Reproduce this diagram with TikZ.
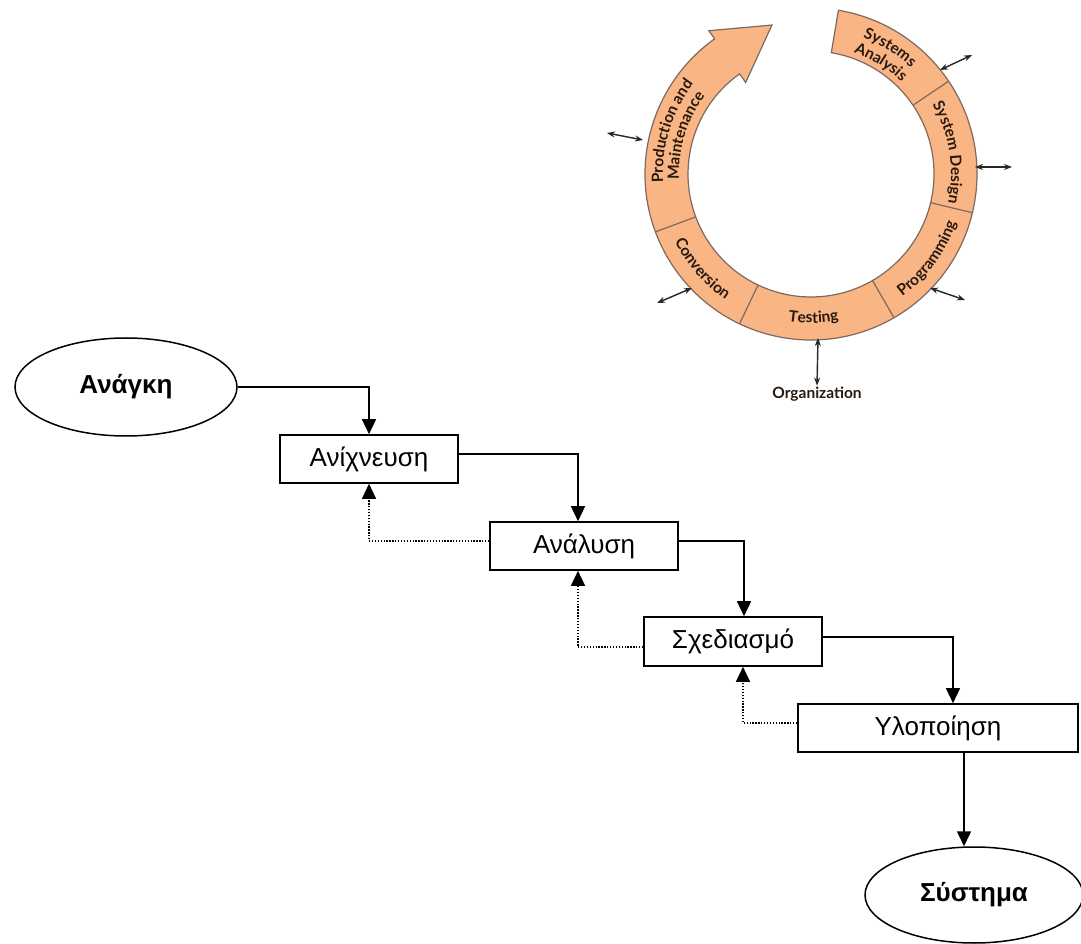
\documentclass[tikz,border=0pt]{standalone}
\usepackage{fontspec}
\setmainfont{Liberation Sans}
\newfontfamily\cycfont{Lato}
\usetikzlibrary{arrows.meta,decorations.text,shapes.geometric}
\definecolor{ringfill}{RGB}{249,181,132}
\definecolor{ringline}{RGB}{125,105,95}
\definecolor{labcol}{RGB}{40,25,15}
\newcommand\cyclab{\cycfont\bfseries\fontsize{15.5}{18}\selectfont\color{labcol}}
\begin{document}
\begin{tikzpicture}[x=1pt,y=1pt,
  box/.style={draw, line width=1.6pt, rectangle, inner sep=0pt, font=\fontsize{26}{30}\selectfont},
  oval/.style={draw, line width=1.5pt, ellipse, inner sep=0pt, font=\bfseries\fontsize{26}{30}\selectfont},
  flow/.style={line width=1.5pt, -{Triangle[length=15pt,width=14pt]}},
  back/.style={line width=1.3pt, dash pattern=on 1.3pt off 1.6pt, -{Triangle[length=15pt,width=14pt]}},
  ring/.style={fill=ringfill, draw=ringline, line width=1.2pt},
  sep/.style={draw=ringline, line width=1.2pt},
  io/.style={line width=1.4pt, draw=black!85, {Stealth[length=8pt,width=6pt]}-{Stealth[length=8pt,width=6pt]}},
  cyctext/.style={font=\cycfont\bfseries\fontsize{15.5}{18}\selectfont, text=labcol, inner sep=1pt}
]
\useasboundingbox (0,0) rectangle (1081,943);

% ---------- cycle diagram ----------
\begin{scope}[shift={(811,769)}]
\draw[ring] (80.5:166pt) arc[start angle=80.5, end angle=-234.5, radius=166pt]
  -- (-234.5:176pt) -- (104.7:154pt) -- (-234.5:112.5pt) -- (-234.5:123pt)
  arc[start angle=-234.5, end angle=80.5, radius=123pt] -- cycle;
\foreach \a in {34,-13.5,-60,-115.5,-159.6} \draw[sep] (\a:123pt) -- (\a:166pt);
% labels
\path[decorate, decoration={text along path, text align=center, text={|\cyclab|Systems}}]
  (80:146pt) arc[start angle=80, end angle=36, radius=146pt];
\path[decorate, decoration={text along path, text align=center, text={|\cyclab|Analysis}}]
  (80:129pt) arc[start angle=80, end angle=36, radius=129pt];
\path[decorate, decoration={text along path, text align=center, text={|\cyclab|System Design}}]
  (33:140pt) arc[start angle=33, end angle=-15, radius=140pt];
\path[decorate, decoration={text along path, text align=center, text={|\cyclab|Programming}}]
  (-60:153pt) arc[start angle=-60, end angle=-12, radius=153pt];
\path[decorate, decoration={text along path, text align=center, text={|\cyclab|Testing}}]
  (-114:149pt) arc[start angle=-114, end angle=-64, radius=149pt];
\path[decorate, decoration={text along path, text align=center, text={|\cyclab|Conversion}}]
  (-160:152pt) arc[start angle=-160, end angle=-118, radius=152pt];
\path[decorate, decoration={text along path, text align=center, text={|\cyclab|Production and}}]
  (198:148pt) arc[start angle=198, end angle=128, radius=148pt];
\path[decorate, decoration={text along path, text align=center, text={|\cyclab|Maintenance}}]
  (198:132pt) arc[start angle=198, end angle=128, radius=132pt];
\end{scope}

\node[cyctext] (org) at (817,549) {Organization};
\draw[io] (940,873) -- (972,888);
\draw[io] (975,776) -- (1012,776);
\draw[io] (930,655) -- (965,643);
\draw[io] (818,605) -- (org.north);
\draw[io] (692,655) -- (657,640);
\draw[io] (643,803) -- (607,810);

% ---------- flow chart ----------
\node[oval, minimum width=222pt, minimum height=98pt] (ana) at (126,556) {Ανάγκη};
\node[box, minimum width=178pt, minimum height=48pt] (anix) at (369,484) {Ανίχνευση};
\node[box, minimum width=188pt, minimum height=48pt] (anal) at (584,397) {Ανάλυση};
\node[box, minimum width=178pt, minimum height=49pt] (sxed) at (733,301.5) {Σχεδιασμό};
\node[box, minimum width=280pt, minimum height=48pt] (ylo) at (938,215) {Υλοποίηση};
\node[oval, minimum width=218pt, minimum height=96pt] (sys) at (974,48) {Σύστημα};

\draw[flow] (ana.east) -| (anix.north);
\draw[flow] ([yshift=5pt]anix.east) -| ([xshift=-6pt]anal.north);
\draw[flow] ([yshift=5pt]anal.east) -| ([xshift=11pt]sxed.north);
\draw[flow] ([yshift=4.5pt]sxed.east) -| ([xshift=15pt]ylo.north);
\draw[flow] ([xshift=26pt]ylo.south) -- ([xshift=26pt]ylo.south |- sys.north);

\draw[back] ([yshift=5pt]anal.west) -| (anix.south);
\draw[back] ([yshift=-5.5pt]sxed.west) -| ([xshift=-6pt]anal.south);
\draw[back] ([yshift=5pt]ylo.west) -| ([xshift=10pt]sxed.south);
\end{tikzpicture}
\end{document}
